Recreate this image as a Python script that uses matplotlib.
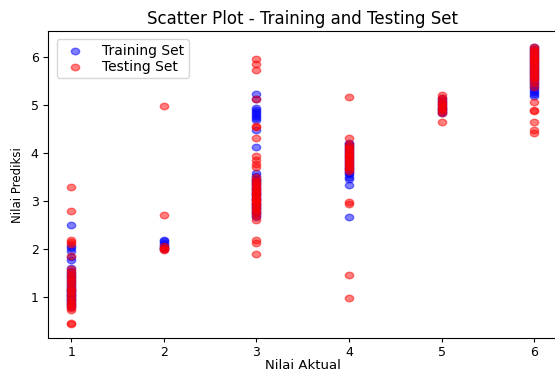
import matplotlib
matplotlib.use("Agg")
import matplotlib.pyplot as plt
from matplotlib.path import Path

# nilai aktual (kelas) dan prediksi model
train_actual_1 = [1] * 30
train_pred_1 = [2.51, 2.07, 2.03, 1.96, 1.84, 1.77, 1.60, 1.55, 1.50, 1.46,
                1.42, 1.38, 1.34, 1.30, 1.26, 1.22, 1.18, 1.14, 1.10, 1.06,
                1.02, 0.98, 0.94, 0.90, 0.86, 0.83, 0.80, 1.12, 1.04, 0.96]
test_actual_1 = [1] * 26
test_pred_1 = [3.30, 2.80, 2.20, 2.15, 2.10, 1.85, 1.58, 1.52, 1.47, 1.42,
               1.36, 1.31, 1.26, 1.20, 1.15, 1.10, 1.05, 1.00, 0.95, 0.90,
               0.85, 0.81, 0.77, 0.74, 0.45, 0.46]

train_actual_2 = [2] * 7
train_pred_2 = [2.20, 2.16, 2.12, 2.08, 2.05, 2.02, 2.00]
test_actual_2 = [2] * 6
test_pred_2 = [4.98, 2.72, 2.06, 2.03, 2.00, 1.99]

train_actual_3 = [3] * 38
train_pred_3 = [5.24, 5.13, 4.94, 4.90, 4.86, 4.82, 4.78, 4.74, 4.70, 4.48,
                4.13, 3.58, 3.52, 3.47, 3.42, 3.37, 3.32, 3.27, 3.22, 3.17,
                3.12, 3.07, 3.02, 2.97, 2.92, 2.87, 2.82, 2.77, 2.72, 2.67,
                3.45, 3.25, 3.05, 2.85, 3.35, 3.15, 2.95, 2.75]
test_actual_3 = [3] * 36
test_pred_3 = [5.97, 5.85, 5.74, 5.13, 4.56, 4.54, 4.31, 3.93, 3.85, 3.78,
               3.71, 3.50, 3.45, 3.40, 3.36, 3.32, 3.28, 3.24, 3.20, 3.16,
               3.12, 3.08, 3.04, 3.00, 2.96, 2.92, 2.88, 2.84, 2.80, 2.76,
               2.70, 2.60, 2.19, 2.13, 1.90, 3.02]

train_actual_4 = [4] * 22
train_pred_4 = [4.22, 4.18, 4.14, 4.10, 4.06, 4.02, 3.98, 3.94, 3.90, 3.86,
                3.82, 3.78, 3.74, 3.70, 3.66, 3.62, 3.56, 3.50, 3.46, 3.34,
                2.67, 3.58]
test_actual_4 = [4] * 21
test_pred_4 = [5.16, 4.31, 4.20, 4.15, 4.11, 4.07, 4.03, 3.99, 3.95, 3.91,
               3.87, 3.83, 3.79, 3.75, 3.71, 3.67, 3.62, 2.98, 2.93, 1.46,
               0.99]

train_actual_5 = [5] * 10
train_pred_5 = [5.14, 5.10, 5.06, 5.02, 4.98, 4.95, 4.92, 4.89, 4.86, 4.84]
test_actual_5 = [5] * 10
test_pred_5 = [5.21, 5.15, 5.09, 5.04, 5.00, 4.96, 4.92, 4.88, 4.83, 4.65]

train_actual_6 = [6] * 26
train_pred_6 = [6.20, 6.16, 6.12, 6.08, 6.04, 6.00, 5.96, 5.92, 5.88, 5.84,
                5.80, 5.76, 5.72, 5.68, 5.64, 5.60, 5.56, 5.52, 5.48, 5.44,
                5.40, 5.36, 5.32, 5.28, 5.24, 5.20]
test_actual_6 = [6] * 26
test_pred_6 = [6.21, 6.17, 6.13, 6.09, 6.05, 6.01, 5.97, 5.93, 5.89, 5.85,
               5.81, 5.77, 5.73, 5.69, 5.65, 5.61, 5.57, 5.52, 5.46, 5.38,
               5.07, 4.90, 4.88, 4.65, 4.48, 4.42]

y_train_actual = (train_actual_1 + train_actual_2 + train_actual_3
                  + train_actual_4 + train_actual_5 + train_actual_6)
y_train_pred = (train_pred_1 + train_pred_2 + train_pred_3
                + train_pred_4 + train_pred_5 + train_pred_6)
y_test_actual = (test_actual_1 + test_actual_2 + test_actual_3
                 + test_actual_4 + test_actual_5 + test_actual_6)
y_test_pred = (test_pred_1 + test_pred_2 + test_pred_3
               + test_pred_4 + test_pred_5 + test_pred_6)

# gambar asli tampak dipipihkan secara vertikal, jadi titiknya lonjong
circle = Path.unit_circle()
oval = Path(circle.vertices * [1.0, 0.78], circle.codes)

fig = plt.figure(figsize=(5.55, 3.71), dpi=100)
# sumbu sedikit melewati tepi kanan gambar, seperti pada gambar asli
ax = fig.add_axes([0.087, 0.089, 0.917, 0.827])

ax.scatter(y_train_actual, y_train_pred, color="blue", alpha=0.5, s=36,
           marker=oval, label="Training Set")
ax.scatter(y_test_actual, y_test_pred, color="red", alpha=0.5, s=36,
           marker=oval, label="Testing Set")

ax.set_xlim(0.75, 6.25)
ax.set_ylim(0.15, 6.54)
ax.set_title("Scatter Plot - Training and Testing Set", fontsize=12, pad=5)
ax.set_xlabel("Nilai Aktual", fontsize=9.5, labelpad=0)
ax.set_ylabel("Nilai Prediksi", fontsize=8.5, labelpad=5)
ax.tick_params(axis="x", labelsize=9, length=3, pad=2.5)
ax.tick_params(axis="y", labelsize=9, length=3.5, pad=3.5)
ax.legend(loc="upper left", fontsize=10, labelspacing=0.15, borderpad=0.3,
          borderaxespad=0.6, handletextpad=1.0)

fig.savefig("out.png", dpi=100)
